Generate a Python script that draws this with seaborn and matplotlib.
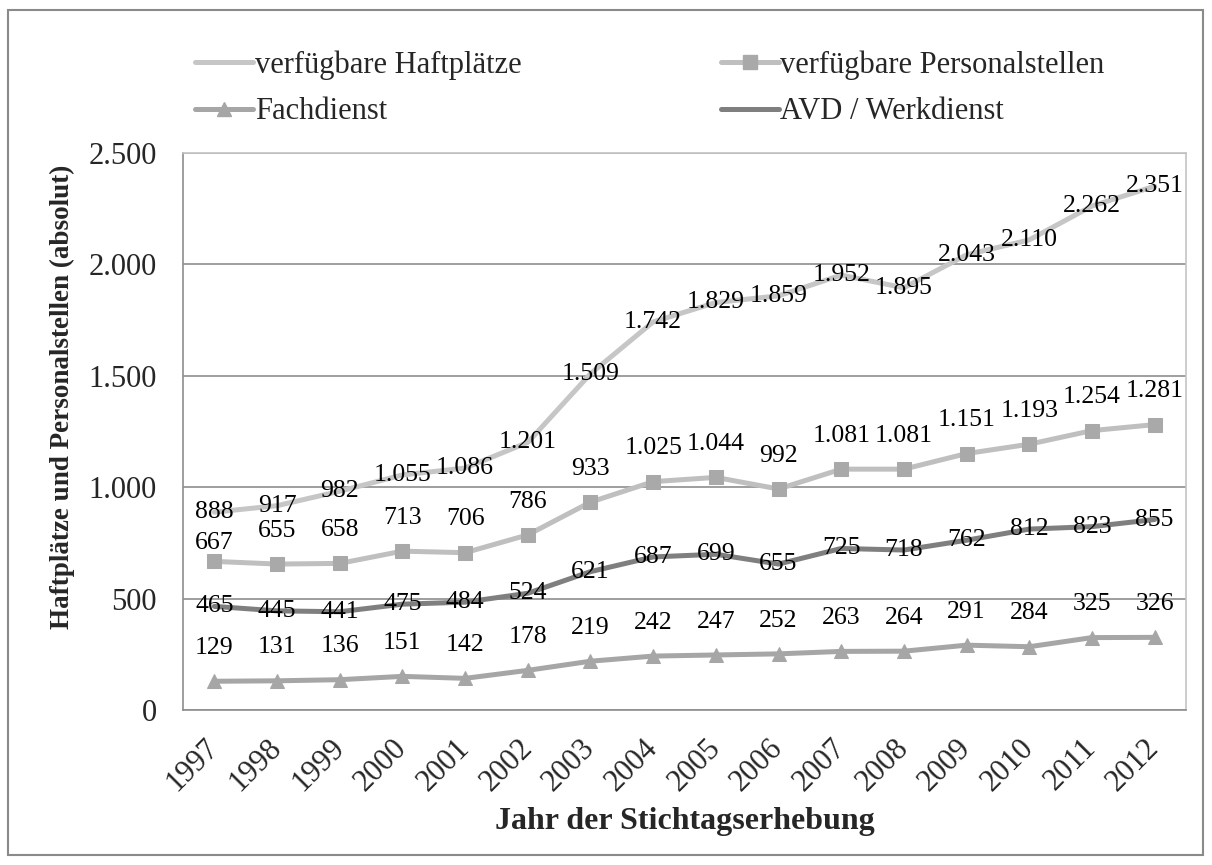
import numpy as np
import pandas as pd
import matplotlib
matplotlib.use("Agg")
import matplotlib.pyplot as plt
import seaborn as sns
from matplotlib.lines import Line2D
from matplotlib.patches import Rectangle

# data
years = ["1997", "1998", "1999", "2000", "2001", "2002", "2003", "2004",
         "2005", "2006", "2007", "2008", "2009", "2010", "2011", "2012"]
haftplaetze = [888, 917, 982, 1055, 1086, 1201, 1509, 1742,
               1829, 1859, 1952, 1895, 2043, 2110, 2262, 2351]
personalstellen = [667, 655, 658, 713, 706, 786, 933, 1025,
                   1044, 992, 1081, 1081, 1151, 1193, 1254, 1281]
fachdienst = [129, 131, 136, 151, 142, 178, 219, 242,
              247, 252, 263, 264, 291, 284, 325, 326]
avd = [465, 445, 441, 475, 484, 524, 621, 687,
       699, 655, 725, 718, 762, 812, 823, 855]

series_names = ["verfügbare Haftplätze", "verfügbare Personalstellen",
                "Fachdienst", "AVD / Werkdienst"]

sns.set_style("white")
plt.rcParams["font.family"] = ["Liberation Serif", "DejaVu Serif"]

W, H = 1212, 865
fig = plt.figure(figsize=(W / 100, H / 100), dpi=100)
ax = fig.add_axes([183 / W, 1 - 710 / H, (1186 - 183) / W, (710 - 153) / H])

x = np.arange(len(years))

# style per series: colour, marker, label offset (points above the point)
styles = {
    "verfügbare Haftplätze": dict(color="#c6c6c6", marker=None, lw=3.6, dy=0),
    "verfügbare Personalstellen": dict(color="#bfbfbf", marker="s", lw=3.6, dy=24),
    "Fachdienst": dict(color="#a6a6a6", marker="^", lw=3.6, dy=24),
    "AVD / Werkdienst": dict(color="#7f7f7f", marker=None, lw=3.6, dy=0),
}
values = {
    "verfügbare Haftplätze": haftplaetze,
    "verfügbare Personalstellen": personalstellen,
    "Fachdienst": fachdienst,
    "AVD / Werkdienst": avd,
}
# the first Personalstellen label sits closer to its marker in the original
label_dy_override = {("verfügbare Personalstellen", 0): 13}

for name in series_names:
    st = styles[name]
    df = pd.DataFrame({"x": x, "y": values[name]})
    mfc = "#a9a9a9" if st["marker"] == "s" else st["color"]
    sns.lineplot(data=df, x="x", y="y", ax=ax, color=st["color"], lw=st["lw"],
                 marker=st["marker"], markersize=10, markerfacecolor=mfc,
                 markeredgecolor=mfc, legend=False, zorder=3)
    for xi, v in zip(x, values[name]):
        lab = f"{v:,}".replace(",", ".")
        dy = label_dy_override.get((name, xi), st["dy"])
        ax.annotate(lab, (xi, v), xytext=(0, dy), textcoords="offset points",
                    ha="center", va="center", fontsize=18.5, color="black", zorder=4)

ax.set_xlim(-0.5, len(years) - 0.5)
ax.set_ylim(0, 2500)
ax.set_yticks([0, 500, 1000, 1500, 2000, 2500])
ax.set_yticklabels(["0", "500", "1.000", "1.500", "2.000", "2.500"], fontsize=22)
ax.yaxis.grid(True, color="#8e8e8e", lw=1.2)
ax.set_axisbelow(True)

ax.set_xticks(x)
ax.set_xticklabels(years, fontsize=22, rotation=45, ha="right", va="center",
                   rotation_mode="anchor")
ax.set_xticks(np.arange(-0.5, len(years)), minor=True)
ax.tick_params(axis="x", which="major", length=0, pad=24)
ax.tick_params(axis="x", which="minor", length=8, color="#8e8e8e", width=1.2)
ax.tick_params(axis="y", length=8, color="#8e8e8e", width=1.2, pad=11)
ax.set_xlabel("")
ax.set_ylabel("")

for s in ["left", "bottom"]:
    ax.spines[s].set_color("#8e8e8e")
    ax.spines[s].set_linewidth(1.2)
for s in ["top", "right"]:
    ax.spines[s].set_color("#c4c4c4")
    ax.spines[s].set_linewidth(1.2)

fig.text(62 / W, 1 - 397 / H, "Haftplätze und Personalstellen (absolut)",
         rotation=90, ha="center", va="center", fontsize=19.5, fontweight="bold")
fig.text(685 / W, 1 - 821 / H, "Jahr der Stichtagserhebung",
         ha="center", va="center", fontsize=23, fontweight="bold")

# legend: two columns, column-wise order
handles = []
for name in ["verfügbare Haftplätze", "Fachdienst",
             "verfügbare Personalstellen", "AVD / Werkdienst"]:
    st = styles[name]
    mfc = "#a9a9a9" if st["marker"] == "s" else st["color"]
    handles.append(Line2D([], [], color=st["color"], lw=st["lw"], marker=st["marker"],
                          markersize=10, markerfacecolor=mfc, markeredgecolor=mfc,
                          label=name))
fig.legend(handles=handles, ncol=2, loc="upper left",
           bbox_to_anchor=(195 / W, 1 - 50 / H), frameon=False, fontsize=22,
           handlelength=1.9, handletextpad=0.05, columnspacing=6.53,
           labelspacing=0.58, borderpad=0, borderaxespad=0)

fig.patches.append(Rectangle((8 / W, 1 - 855 / H), (1203 - 8) / W, (855 - 10) / H,
                             transform=fig.transFigure, fill=False,
                             ec="#8a8a8a", lw=1.5))

fig.savefig("out.png", dpi=100)
